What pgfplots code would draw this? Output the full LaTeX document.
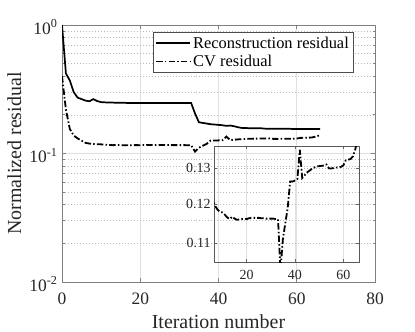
\documentclass[border=0pt]{standalone}
\usepackage{pgfplots}
\pgfplotsset{compat=1.18}
\usepackage{pgfplotstable}
\usepackage{fontspec}
\setmainfont{Liberation Serif}

% iteration, reconstruction residual, CV residual
\pgfplotstableread{
it rec cv
0 1.000 0.400
1 0.420 0.220
2 0.370 0.155
3 0.300 0.138
4 0.272 0.131
5 0.265 0.126
6 0.258 0.121
7 0.255 0.1195
8 0.265 0.1185
9 0.256 0.1180
10 0.251 0.1178
11 0.250 0.1172
12 0.249 0.1165
13 0.249 0.1161
14 0.248 0.1167
15 0.248 0.1162
16 0.248 0.1159
17 0.247 0.1160
18 0.247 0.1161
19 0.247 0.1162
20 0.247 0.1161
21 0.247 0.1163
22 0.247 0.1164
23 0.247 0.1164
24 0.247 0.1164
25 0.247 0.1164
26 0.247 0.1163
27 0.247 0.1163
28 0.247 0.1162
29 0.247 0.1162
30 0.247 0.1162
31 0.247 0.1162
32 0.247 0.1161
33 0.247 0.1160
34 0.205 0.1035
35 0.175 0.1110
36 0.173 0.1150
37 0.171 0.1190
38 0.169 0.1262
39 0.168 0.1262
40 0.167 0.1265
41 0.166 0.1269
42 0.164 0.1355
43 0.165 0.1272
44 0.163 0.1280
45 0.160 0.1288
46 0.158 0.1293
47 0.158 0.1298
48 0.157 0.1302
49 0.157 0.1305
50 0.157 0.1306
51 0.157 0.1307
52 0.156 0.1308
53 0.156 0.1311
54 0.156 0.1300
55 0.156 0.1299
56 0.156 0.1301
57 0.156 0.1302
58 0.156 0.1303
59 0.155 0.1304
60 0.155 0.1308
61 0.155 0.1323
62 0.155 0.1325
63 0.155 0.1327
64 0.155 0.1335
65 0.155 0.1357
66 0.155 0.1390
}\resdata

\definecolor{axgray}{gray}{0.5}
\definecolor{gridgray}{gray}{0.88}
\tikzset{
  recline/.style={black, line width=1.7pt},
  cvline/.style={black, line width=1.8pt, dash pattern=on 6.5pt off 2.2pt on 1.5pt off 2.2pt},
  dotgrid/.style={gray!55, line width=0.5pt, dash pattern=on 0.8pt off 2.2pt},
}

\begin{document}
\begin{tikzpicture}
\path[use as bounding box] (0,0) rectangle (415bp,332bp);
\begin{axis}[
  at={(62bp,50bp)}, anchor=south west, scale only axis,
  width=313bp, height=257bp,
  xmin=0, xmax=80, ymin=0.01, ymax=1, ymode=log,
  xtick={0,20,40,60,80},
  ytick={0.01,0.1,1},
  yticklabels={10\textsuperscript{-2},10\textsuperscript{-1},10\textsuperscript{0}},
  minor ytick={0.02,0.03,0.04,0.05,0.06,0.07,0.08,0.09,0.2,0.3,0.4,0.5,0.6,0.7,0.8,0.9},
  /pgf/number format/assume math mode=true,
  tick pos=both, tick align=inside,
  major tick length=4bp, minor tick length=2.5bp,
  axis line style={axgray, line width=0.9pt}, every tick/.style={axgray, line width=0.7pt},
  xmajorgrids, ymajorgrids, yminorgrids,
  major grid style={gridgray, line width=0.6pt},
  minor grid style={dotgrid},
  tick label style={font=\fontsize{17.5}{20}\selectfont, black!85},
  xticklabel style={yshift=-7bp},
  yticklabel style={yshift=-2bp, xshift=-1bp},
  xlabel={Iteration number}, ylabel={Normalized residual},
  label style={font=\fontsize{20}{24}\selectfont, black!85},
  xlabel style={at={(axis description cs:0.5,0)}, anchor=center, yshift=-40bp},
  ylabel style={at={(axis description cs:-0.152,0.5)}, anchor=center},
  legend style={at={(rel axis cs:0.291,0.973)}, anchor=north west,
    draw=black!70, line width=0.6pt, fill=white, font=\fontsize{16.5}{19}\selectfont,
    inner xsep=2bp, inner ysep=2.5bp, row sep=1.5bp},
  legend cell align=left,
  legend image code/.code={\draw[#1] (0bp,0bp) -- (34bp,0bp);},
]
\addplot[recline] table[x=it, y=rec] {\resdata};
\addlegendentry{Reconstruction residual}
\addplot[cvline] table[x=it, y=cv] {\resdata};
\addlegendentry{CV residual}
\end{axis}
\begin{axis}[
  at={(214bp,70bp)}, anchor=south west, scale only axis,
  width=145bp, height=116bp,
  xmin=6.5, xmax=66.5, ymin=0.1055, ymax=0.1366, ymode=log,
  xtick={20,40,60},
  ytick={0.11,0.12,0.13}, yticklabels={0.11,0.12,0.13},
  /pgf/number format/assume math mode=true,
  tick pos=both, tick align=inside,
  major tick length=3bp,
  axis line style={black!65, line width=0.7pt}, every tick/.style={black!60},
  xmajorgrids, ymajorgrids,
  x grid style={gridgray, line width=0.6pt},
  y grid style={dotgrid},
  tick label style={font=\fontsize{14}{16}\selectfont, black!85},
  xticklabel style={yshift=-5bp},
]
\addplot[cvline] table[x=it, y=cv] {\resdata};
\end{axis}
\end{tikzpicture}
\end{document}
